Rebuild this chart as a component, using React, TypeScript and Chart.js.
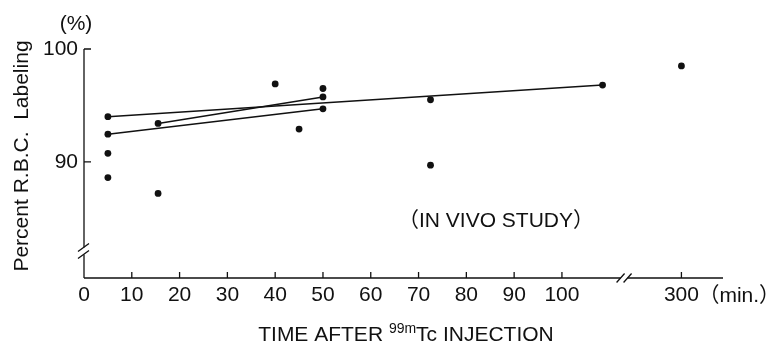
import React, { useEffect, useRef } from "react";
import { Chart, registerables } from "chart.js";

Chart.register(...registerables);

// Measurements: elapsed time after injection (min) and % of labelled red blood cells
const sampleTimes = [5, 5, 5, 5, 15.5, 15.5, 40, 45, 50, 50, 50, 72.5, 72.5, 108.5, 300];
const labelingPercent = [94.0, 92.45, 90.75, 88.6, 93.4, 87.2, 96.9, 92.9, 96.5, 95.75, 94.7, 95.5, 89.7, 96.8, 98.5];

// Straight lines joining repeated measurements of the same subject
const trendTimes = [
  [5, 108.5],
  [5, 50],
  [15.5, 50],
];
const trendPercent = [
  [94.0, 96.8],
  [92.45, 94.7],
  [93.4, 95.75],
];

// Axis ticks
const xTickTimes = [0, 10, 20, 30, 40, 50, 60, 70, 80, 90, 100, 300];
const xTickLabels = ["0", "10", "20", "30", "40", "50", "60", "70", "80", "90", "100", "300"];
const yTickValues = [90, 100];
const yTickLabels = ["90", "100"];

// Broken time axis: the far segment holds only the 300 min mark
const X_MAX = 133.7;
const X_BREAK = 113;
const FAR_SEGMENT_POS = 125;
const Y_MIN = 79.7;
const Y_MAX = 100;
const Y_BREAK = 82.1;

const axisPos = (t: number) => (t > X_BREAK ? FAR_SEGMENT_POS : t);

const FONT = '"Liberation Sans", Arial, "Noto Sans CJK JP", sans-serif';
const INK = "#111";
const TEXT_SIZE = 21;

const axesPlugin = {
  id: "brokenAxes",
  afterDraw(chart: any) {
    const { ctx } = chart;
    const xs = chart.scales.x;
    const ys = chart.scales.y;
    const x0 = xs.getPixelForValue(0);
    const xEnd = xs.getPixelForValue(X_MAX);
    const xBreak = xs.getPixelForValue(X_BREAK);
    const yTop = ys.getPixelForValue(Y_MAX);
    const yBot = ys.getPixelForValue(Y_MIN);
    const yBreak = ys.getPixelForValue(Y_BREAK);
    const gap = 3.5;

    ctx.save();
    ctx.strokeStyle = INK;
    ctx.lineWidth = 1.3;
    ctx.lineCap = "butt";

    // vertical axis with a break
    ctx.beginPath();
    ctx.moveTo(x0, yTop);
    ctx.lineTo(x0, yBreak - gap);
    ctx.moveTo(x0, yBreak + gap);
    ctx.lineTo(x0, yBot);
    // horizontal axis with a break
    ctx.moveTo(x0, yBot);
    ctx.lineTo(xBreak - gap, yBot);
    ctx.moveTo(xBreak + gap, yBot);
    ctx.lineTo(xEnd, yBot);
    ctx.stroke();

    // inward tick marks
    ctx.beginPath();
    yTickValues.forEach((v) => {
      const y = ys.getPixelForValue(v);
      ctx.moveTo(x0, y);
      ctx.lineTo(x0 + 7, y);
    });
    xTickTimes.forEach((t) => {
      if (t === 0) return;
      const x = xs.getPixelForValue(axisPos(t));
      ctx.moveTo(x, yBot);
      ctx.lineTo(x, yBot - 6);
    });
    ctx.stroke();

    // break marks
    ctx.beginPath();
    [-gap, gap].forEach((d) => {
      ctx.moveTo(x0 - 6, yBreak + d + 4);
      ctx.lineTo(x0 + 5, yBreak + d - 4);
      ctx.moveTo(xBreak + d - 4, yBot + 4.5);
      ctx.lineTo(xBreak + d + 4, yBot - 4.5);
    });
    ctx.stroke();

    // texts
    ctx.fillStyle = INK;
    ctx.textBaseline = "alphabetic";

    ctx.font = `${TEXT_SIZE}px ${FONT}`;
    ctx.textAlign = "center";
    ctx.fillText("(%)", x0 - 8, 30);

    ctx.textAlign = "left";
    ctx.fillText("（min.）", xs.getPixelForValue(FAR_SEGMENT_POS) + 17, yBot + 24);

    ctx.textAlign = "center";
    ctx.fillText("（IN VIVO STUDY）", 496, 227);

    // vertical title
    ctx.save();
    ctx.translate(28, 156);
    ctx.rotate(-Math.PI / 2);
    ctx.font = `${TEXT_SIZE}px ${FONT}`;
    ctx.textAlign = "center";
    ctx.fillText("Percent R.B.C.  Labeling", 0, 0);
    ctx.restore();

    // horizontal title with superscript isotope mass number
    const partA = "TIME AFTER ";
    const sup = "99m";
    const partB = "Tc INJECTION";
    ctx.textAlign = "left";
    ctx.font = `${TEXT_SIZE}px ${FONT}`;
    const wA = ctx.measureText(partA).width;
    const wB = ctx.measureText(partB).width;
    ctx.font = `14px ${FONT}`;
    const wS = ctx.measureText(sup).width;
    const total = wA + wS + wB;
    let tx = 406 - total / 2;
    const base = 341;
    ctx.font = `${TEXT_SIZE}px ${FONT}`;
    ctx.fillText(partA, tx, base);
    tx += wA;
    ctx.font = `14px ${FONT}`;
    ctx.fillText(sup, tx, base - 8);
    tx += wS;
    ctx.font = `${TEXT_SIZE}px ${FONT}`;
    ctx.fillText(partB, tx, base);

    ctx.restore();
  },
};

export default function App() {
  const canvasRef = useRef<HTMLCanvasElement | null>(null);

  useEffect(() => {
    if (!canvasRef.current) return;

    const points = sampleTimes.map((t, i) => ({ x: axisPos(t), y: labelingPercent[i] }));
    const trendSets = trendTimes.map((ts, i) => ({
      type: "line" as const,
      data: ts.map((t, j) => ({ x: axisPos(t), y: trendPercent[i][j] })),
      borderColor: INK,
      borderWidth: 1.5,
      pointRadius: 0,
      showLine: true,
      fill: false,
    }));

    const chart = new Chart(canvasRef.current, {
      type: "scatter",
      data: {
        datasets: [
          ...trendSets,
          {
            type: "scatter" as const,
            data: points,
            backgroundColor: INK,
            borderColor: INK,
            borderWidth: 0,
            pointRadius: 3.4,
          },
        ] as any,
      },
      options: {
        animation: false,
        responsive: false,
        layout: { padding: { left: 0, right: 46, top: 49, bottom: 0 } },
        plugins: {
          legend: { display: false },
          tooltip: { enabled: false },
        },
        scales: {
          x: {
            type: "linear",
            min: 0,
            max: X_MAX,
            grid: { display: false, drawTicks: false },
            border: { display: false },
            afterBuildTicks: (scale: any) => {
              scale.ticks = xTickTimes.map((t) => ({ value: axisPos(t) }));
            },
            afterFit: (scale: any) => {
              scale.height = 66;
            },
            ticks: {
              autoSkip: false,
              maxRotation: 0,
              padding: 5,
              color: INK,
              font: { family: FONT, size: TEXT_SIZE },
              callback: (_v: any, i: number) => xTickLabels[i],
            },
          },
          y: {
            type: "linear",
            min: Y_MIN,
            max: Y_MAX,
            grid: { display: false, drawTicks: false },
            border: { display: false },
            afterBuildTicks: (scale: any) => {
              scale.ticks = yTickValues.map((v) => ({ value: v }));
            },
            afterFit: (scale: any) => {
              scale.width = 84;
            },
            ticks: {
              padding: 6,
              color: INK,
              font: { family: FONT, size: TEXT_SIZE },
              callback: (_v: any, i: number) => yTickLabels[i],
            },
          },
        },
      },
      plugins: [axesPlugin],
    });

    return () => chart.destroy();
  }, []);

  return (
    <div style={{ position: "absolute", left: 0, top: 0, width: 769, height: 344, background: "#fff" }}>
      <canvas ref={canvasRef} width={769} height={344} />
    </div>
  );
}
